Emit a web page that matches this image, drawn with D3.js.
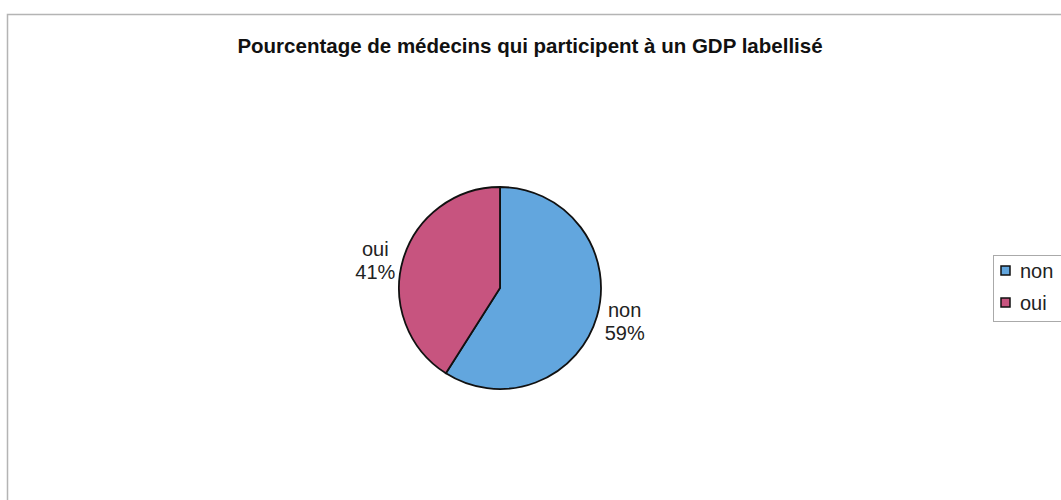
<!DOCTYPE html>
<html>
<head>
<meta charset="utf-8">
<script src="https://cdn.jsdelivr.net/npm/d3@7"></script>
<style>
  body { margin: 0; background: #fff; }
  svg { display: block; font-family: "Liberation Sans", Arial, sans-serif; }
</style>
</head>
<body>
<svg id="chart" width="1061" height="500"></svg>
<script>
// data
const categories = ['non', 'oui']
const values = [59, 41]
const colors = ['#62a6de', '#c7547f']
const title = 'Pourcentage de médecins qui participent à un GDP labellisé'

const svg = d3.select('#chart')
const cx = 500, cy = 288, radius = 101

// outer frame (only top and left visible)
svg.append('path')
    .attr('d', 'M7.5,500 L7.5,14.5 L1061,14.5')
    .style('fill', 'none')
    .style('stroke', '#b4b4b4')
    .style('stroke-width', 1.5)

svg.append('text')
    .attr('x', 530)
    .attr('y', 53)
    .attr('text-anchor', 'middle')
    .style('font-weight', 'bold')
    .style('font-size', '20.5px')
    .style('fill', '#111')
    .text(title)

const data = categories.map((c, i) => ({ name: c, value: values[i], color: colors[i] }))
const pie = d3.pie().sort(null).value(d => d.value)
const arc = d3.arc().innerRadius(0).outerRadius(radius)
const labelArc = d3.arc().innerRadius(radius + 8).outerRadius(radius + 8)
const total = d3.sum(values)

const g = svg.append('g').attr('transform', `translate(${cx},${cy})`)

g.selectAll('path.slice')
    .data(pie(data))
    .join('path')
    .attr('class', 'slice')
    .attr('d', arc)
    .style('fill', d => d.data.color)
    .style('stroke', '#111')
    .style('stroke-width', 1.8)

// labels: box placed outside the pie, lines centred in the box
const lineH = 23
const labels = g.selectAll('g.lbl')
    .data(pie(data))
    .join('g')
    .attr('class', 'lbl')

labels.each(function (d) {
    const grp = d3.select(this)
    const lines = [d.data.name, Math.round(d.data.value / total * 100) + '%']
    const t = grp.append('text')
        .attr('text-anchor', 'middle')
        .style('font-size', '20px')
        .style('fill', '#222')
    const spans = lines.map((s, i) => t.append('tspan')
        .attr('x', 0)
        .attr('y', (i - (lines.length - 1) / 2) * lineH + 7)
        .text(s))
    const w = d3.max(spans, s => s.node().getComputedTextLength())
    const [px, py] = labelArc.centroid(d)
    const mid = (d.startAngle + d.endAngle) / 2
    const left = Math.sin(mid) < 0
    grp.attr('transform', `translate(${left ? px - w / 2 : px + w / 2},${py + 3})`)
})

// legend
const legend = svg.append('g')
legend.append('rect')
    .attr('x', 993.5)
    .attr('y', 255.5)
    .attr('width', 80)
    .attr('height', 66)
    .style('fill', '#fff')
    .style('stroke', '#aaa')
    .style('stroke-width', 1)

const items = legend.selectAll('g.item')
    .data(data)
    .join('g')
    .attr('class', 'item')
    .attr('transform', (d, i) => `translate(1001,${266 + i * 32})`)

items.append('rect')
    .attr('width', 9)
    .attr('height', 9)
    .style('fill', d => d.color)
    .style('stroke', '#111')
    .style('stroke-width', 1.5)

items.append('text')
    .attr('x', 19)
    .attr('y', 12)
    .style('font-size', '20px')
    .style('fill', '#222')
    .text(d => d.name)
</script>
</body>
</html>
